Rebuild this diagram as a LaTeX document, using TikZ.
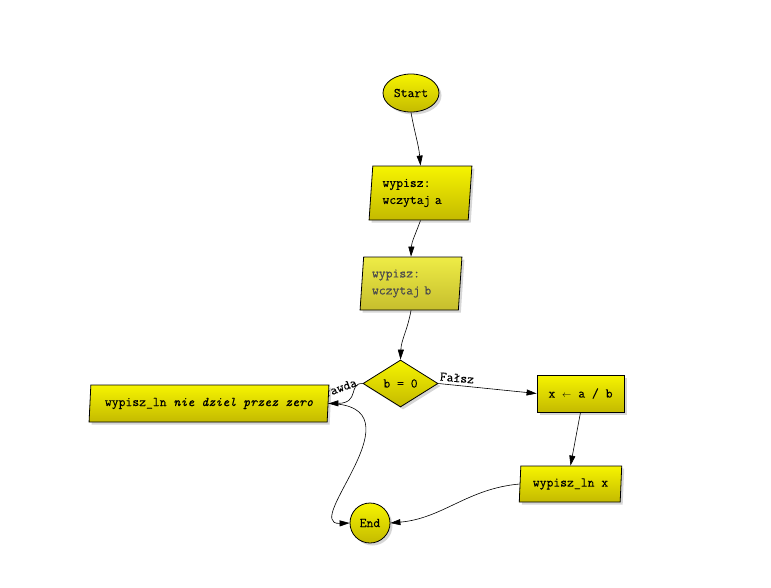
\documentclass[tikz,border=0pt]{standalone}
\usepackage{fontspec}
\setmonofont{Latin Modern Mono}[FakeBold=0.2]
\usetikzlibrary{shapes.geometric,shadows,arrows.meta}
\definecolor{ytop}{RGB}{246,244,0}
\definecolor{ybot}{RGB}{196,186,0}
\definecolor{ltop}{RGB}{238,236,70}
\definecolor{lbot}{RGB}{198,190,45}
\tikzset{
  fbase/.style={draw=black, line width=0.8pt, top color=ytop, bottom color=ybot,
    drop shadow={shadow xshift=2.5pt, shadow yshift=-2.5pt, fill=black!35, opacity=0.45},
    font={\ttfamily\fontsize{13.3}{17}\selectfont}, inner sep=0pt},
  para/.style={fbase, trapezium, trapezium stretches=true, trapezium left angle=84, trapezium right angle=96},
  term/.style={fbase, ellipse},
  dec/.style={fbase, diamond},
  proc/.style={fbase, rectangle},
  conn/.style={line width=0.6pt, -{Triangle[length=10pt,width=6pt]}},
  lbl/.style={font={\ttfamily\fontsize{13.3}{13}\selectfont}, inner sep=0pt}
}
\begin{document}
\begin{tikzpicture}[x=1pt,y=-1pt]
\useasboundingbox[fill=white] (0,0) rectangle (771,587);
\node[term, minimum width=56, minimum height=38] (start) at (411,93) {Start};
\node[para, minimum width=103, minimum height=54, text width=76, align=left] (rda) at (420.5,193) {wypisz:\\wczytaj a};
\node[para, top color=ltop, bottom color=lbot, text=black!70, minimum width=102, minimum height=53, text width=78, align=left] (rdb) at (411,283.5) {wypisz:\\wczytaj b};
\node[dec, minimum width=75, minimum height=47] (cond) at (400.5,383.5) {b = 0};
\node[lbl, rotate=20] (prawda) at (337,389) {Prawda};
\node[para, trapezium left angle=82, trapezium right angle=98, minimum width=240, minimum height=37] (err) at (209,403.5) {wypisz\_ln \textit{nie dziel przez zero}};
\node[proc, minimum width=87, minimum height=37] (calc) at (580.5,393.5) {x {\fontsize{9}{9}\selectfont$\leftarrow$} a / b};
\node[para, minimum width=103, minimum height=36] (outx) at (570.5,484) {wypisz\_ln x};
\node[term, minimum width=40, minimum height=40] (end) at (370,523) {End};
\node[lbl, rotate=-5] (falsz) at (457,378) {Fałsz};
\draw[conn] (start.south) to[out=-80,in=95] (rda.north);
\draw[conn] (rda.south) to[out=-110,in=88] (rdb.north);
\draw[conn] (rdb.south) to[out=-100,in=88] (cond.north);
\draw[conn] (cond.west) .. controls (348,383) and (360,403) .. (err.east);
\draw[conn] (cond.east) -- (calc.west);
\draw[conn] (calc.south) -- (outx.north);
\draw[conn] (outx.west) to[out=185,in=5] (end.east);
\draw[conn] (err.east) .. controls (425,405) and (300,525) .. (end.west);
\end{tikzpicture}
\end{document}
